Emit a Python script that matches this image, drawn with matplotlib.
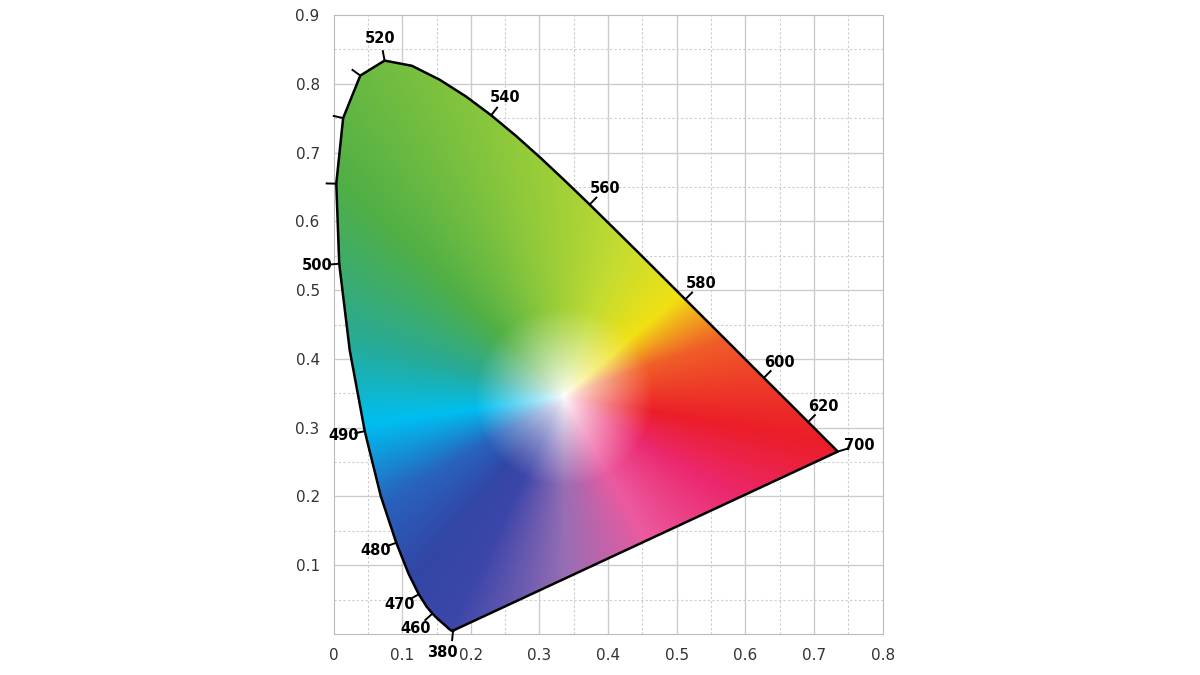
import numpy as np
import matplotlib
matplotlib.use("Agg")
import matplotlib.pyplot as plt
from matplotlib.path import Path
from matplotlib.patches import PathPatch

wl = [380,385,390,395,400,405,410,415,420,425,430,435,440,445,450,455,460,465,470,475,480,485,490,495,500,505,510,515,520,525,530,535,540,545,550,555,560,565,570,575,580,585,590,595,600,605,610,615,620,625,630,640,650,660,680,700]
lx = [0.1741,0.1740,0.1738,0.1736,0.1733,0.1730,0.1726,0.1721,0.1714,0.1703,0.1689,0.1669,0.1644,0.1611,0.1566,0.1510,0.1440,0.1355,0.1241,0.1096,0.0913,0.0687,0.0454,0.0235,0.0082,0.0039,0.0139,0.0389,0.0743,0.1142,0.1547,0.1929,0.2296,0.2658,0.3016,0.3373,0.3731,0.4087,0.4441,0.4788,0.5125,0.5448,0.5752,0.6029,0.6270,0.6482,0.6658,0.6801,0.6915,0.7006,0.7079,0.7190,0.7260,0.7300,0.7334,0.7347]
ly = [0.0050,0.0050,0.0049,0.0049,0.0048,0.0048,0.0048,0.0048,0.0051,0.0058,0.0069,0.0086,0.0109,0.0138,0.0177,0.0227,0.0297,0.0399,0.0578,0.0868,0.1327,0.2007,0.2950,0.4127,0.5384,0.6548,0.7502,0.8120,0.8338,0.8262,0.8059,0.7816,0.7543,0.7243,0.6923,0.6589,0.6245,0.5896,0.5547,0.5202,0.4866,0.4544,0.4242,0.3965,0.3725,0.3514,0.3340,0.3197,0.3083,0.2993,0.2920,0.2809,0.2740,0.2700,0.2666,0.2653]
labeled = [380,460,470,480,490,500,520,540,560,580,600,620,700]
unlabeled = [505,510,515]

# hue palette around the white point (angle in degrees -> colour)
hue_ang = [-9.6, 20, 41, 70, 104, 136, 165, 188, 210, 230, 244, 270, 300, 330, 350.4]
hue_col = [(235,30,40),(240,95,40),(240,225,20),(195,220,50),(140,200,60),(80,175,70),
           (40,170,150),(0,190,240),(40,100,190),(50,70,165),(60,70,170),(150,110,180),
           (235,90,160),(235,40,110),(235,30,40)]

fig = plt.figure(figsize=(12,6.75), dpi=100)
ax = fig.add_axes([0.278,0.0607,0.4575,0.917])
ax.set_xlim(0,0.8); ax.set_ylim(0,0.9)

n = 500
gx, gy = np.meshgrid(np.linspace(0,0.8,n), np.linspace(0,0.9,n))
wx, wy = 0.335, 0.345
ang = np.degrees(np.arctan2(gy-wy, gx-wx))
ang = np.where(ang < hue_ang[0], ang+360, ang)
cols = np.array(hue_col)/255.0
rgb = np.stack([np.interp(ang, hue_ang, cols[:,k]) for k in range(3)], axis=-1)
dist = np.hypot(gx-wx, gy-wy)
s = np.clip(dist/0.13, 0, 1)**0.8
rgb = 1*(1-s[...,None]) + rgb*s[...,None]
im = ax.imshow(rgb, extent=(0,0.8,0,0.9), origin='lower', aspect='auto', zorder=2, interpolation='bilinear')
verts = list(zip(lx,ly)) + [(lx[0],ly[0])]
patch = PathPatch(Path(verts), facecolor='none', edgecolor='none')
ax.add_patch(patch)
im.set_clip_path(patch)
ax.plot(lx+[lx[0]], ly+[ly[0]], color='black', lw=1.8, zorder=3)

for v in np.arange(0.05,0.8,0.1):
    ax.axvline(v, color='#cccccc', lw=0.8, ls=(0,(2,2)), zorder=1)
for v in np.arange(0.05,0.9,0.1):
    ax.axhline(v, color='#cccccc', lw=0.8, ls=(0,(2,2)), zorder=1)
for v in np.arange(0.1,0.8,0.1):
    ax.axvline(v, color='#cccccc', lw=1.0, zorder=1)
for v in np.arange(0.1,0.9,0.1):
    ax.axhline(v, color='#cccccc', lw=1.0, zorder=1)
for sp in ax.spines.values():
    sp.set_color('#bbbbbb')
ax.set_xticks(np.arange(0,0.81,0.1))
ax.set_xticklabels(['0','0.1','0.2','0.3','0.4','0.5','0.6','0.7','0.8'])
ax.set_yticks(np.arange(0.1,0.91,0.1))
ax.set_yticklabels(['0.1','0.2','0.3','0.4','0.5','0.6','0.7','0.8','0.9'])
ax.tick_params(length=0, labelsize=11, colors='#333333', pad=10)

px, py = np.array(lx), np.array(ly)
for w in labeled+unlabeled:
    i = wl.index(w)
    if w == 380:
        nx, ny = -0.1, -1.0
    elif w == 700:
        nx, ny = 1.0, 0.3
    else:
        tx = px[i+1]-px[i-1]; ty = py[i+1]-py[i-1]
        L = np.hypot(tx,ty); tx/=L; ty/=L
        nx, ny = -ty, tx
    L = np.hypot(nx, ny); nx/=L; ny/=L
    ax.plot([px[i], px[i]+0.014*nx], [py[i], py[i]+0.014*ny], color='black', lw=1.4, zorder=3, clip_on=False)
    if w in labeled:
        d = 0.032
        ox = -0.012 if w == 380 else 0
        ax.text(px[i]+d*nx+ox, py[i]+d*ny, str(w), fontsize=10.5, fontweight='bold', ha='center', va='center', zorder=4, clip_on=False)

fig.savefig('out.png', dpi=100)
